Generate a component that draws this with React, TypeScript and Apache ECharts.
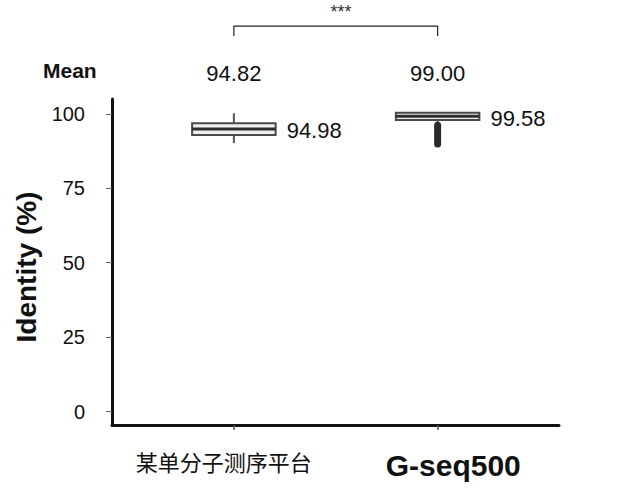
import React, { useEffect, useRef } from 'react';
import * as echarts from 'echarts';

const categories = ['某单分子测序平台', 'G-seq500'];
const whiskerLow = [90.2, 88.8];
const q1 = [92.9, 97.95];
const median = [94.93, 99.19];
const q3 = [96.84, 100.4];
const whiskerHigh = [100.2, 100.4];
const outlierBandCategory = 1;
const outlierBandTop = 96.2;
const outlierBandBottom = 89.9;
const medianLabels = ['94.98', '99.58'];
const meanLabels = ['94.82', '99.00'];
const yTicks = [0, 25, 50, 75, 100];
const significance = '***';
const bracketLow = 126.2;
const bracketHigh = 129.5;

const ff = "'Liberation Sans', Arial, Helvetica, sans-serif";

export default function App() {
  const ref = useRef<HTMLDivElement>(null);
  useEffect(() => {
    document.body.style.margin = '0';
    const chart = echarts.init(ref.current!, undefined, { renderer: 'svg' });
    const boxData = categories.map((_, i) => [i, whiskerLow[i], q1[i], median[i], q3[i], whiskerHigh[i]]);
    const option: any = {
      animation: false,
      backgroundColor: '#ffffff',
      grid: [
        { left: 112, right: 61, top: 99, bottom: 67 },
        { left: 132, right: 80.5, top: 99, bottom: 67 },
      ],
      xAxis: [
        {
          type: 'category',
          gridIndex: 0,
          data: categories,
          axisLine: { onZero: false, lineStyle: { color: '#111', width: 3 } },
          axisTick: { show: false },
          axisLabel: {
            interval: 0,
            margin: 25,
            formatter: (v: string, i: number) => (i === 0 ? `{a|${v}}` : `{b|${v}}`),
            rich: {
              a: { fontSize: 22, fontFamily: "'Noto Sans CJK SC', sans-serif", color: '#111' },
              b: { fontSize: 30, fontWeight: 'bold', fontFamily: ff, color: '#111', padding: [0, 0, 0, 12] },
            },
          },
        },
        {
          type: 'category',
          gridIndex: 1,
          data: categories,
          axisLine: { show: false, onZero: false },
          axisTick: { show: true, alignWithLabel: true, length: 5, lineStyle: { color: '#555', width: 1.5 } },
          axisLabel: { show: false },
        },
        {
          type: 'category',
          gridIndex: 1,
          position: 'top',
          data: categories,
          axisLine: { show: false, onZero: false },
          axisTick: { show: false },
          axisLabel: {
            interval: 0,
            margin: 15,
            formatter: (_v: string, i: number) => meanLabels[i],
            fontSize: 22,
            color: '#111',
            fontFamily: ff,
          },
        },
      ],
      yAxis: [
        {
          type: 'value',
          gridIndex: 0,
          min: -4.5,
          max: 105,
          splitLine: { show: false },
          axisLine: { show: true, lineStyle: { color: '#111', width: 3 } },
          axisTick: { show: true, customValues: yTicks, length: 6, lineStyle: { color: '#666' } },
          axisLabel: { customValues: yTicks, margin: 27, fontSize: 20, color: '#111', fontFamily: ff },
          name: 'Identity (%)',
          nameLocation: 'middle',
          nameGap: 55,
          nameTextStyle: { fontSize: 28, fontWeight: 'bold', color: '#111', fontFamily: ff, padding: [0, 10, 0, 0] },
        },
        { type: 'value', gridIndex: 1, min: -4.5, max: 105, show: false },
      ],
      graphic: [
        {
          type: 'text',
          left: 43,
          top: 60,
          style: { text: 'Mean', fontSize: 21, fontWeight: 'bold', fill: '#111', fontFamily: ff },
        },
        {
          type: 'text',
          x: 341,
          y: 3,
          style: { text: significance, fontSize: 18, fill: '#333', fontFamily: ff, align: 'center' },
        },
      ],
      series: [
        {
          type: 'custom',
          xAxisIndex: 1,
          yAxisIndex: 1,
          data: boxData,
          encode: { x: 0, y: [1, 2, 3, 4, 5] },
          renderItem: (_params: any, api: any) => {
            const idx = api.value(0);
            const lo = api.coord([idx, api.value(1)]);
            const b1 = api.coord([idx, api.value(2)]);
            const md = api.coord([idx, api.value(3)]);
            const b3 = api.coord([idx, api.value(4)]);
            const hi = api.coord([idx, api.value(5)]);
            const w = api.size([1, 0])[0] * 0.41;
            const x = md[0];
            return {
              type: 'group',
              children: [
                { type: 'line', shape: { x1: x, y1: hi[1], x2: x, y2: b3[1] }, style: { stroke: '#555', lineWidth: 2 } },
                { type: 'line', shape: { x1: x, y1: b1[1], x2: x, y2: lo[1] }, style: { stroke: '#555', lineWidth: 2 } },
                {
                  type: 'rect',
                  shape: { x: x - w / 2, y: b3[1], width: w, height: b1[1] - b3[1] },
                  style: { fill: '#efefef', stroke: '#4a4a4a', lineWidth: 2 },
                },
                {
                  type: 'line',
                  shape: { x1: x - w / 2, y1: md[1], x2: x + w / 2, y2: md[1] },
                  style: { stroke: '#2e2e2e', lineWidth: 3 },
                },
                {
                  type: 'text',
                  x: x + w / 2 + 11,
                  y: md[1] + 2,
                  style: {
                    text: medianLabels[idx],
                    fontSize: 22,
                    fill: '#111',
                    fontFamily: ff,
                    verticalAlign: 'middle',
                    align: 'left',
                  },
                },
              ],
            };
          },
        },
        {
          type: 'line',
          xAxisIndex: 1,
          yAxisIndex: 1,
          data: [
            [outlierBandCategory, outlierBandTop],
            [outlierBandCategory, outlierBandBottom],
          ],
          symbol: 'none',
          lineStyle: { color: '#2a2a2a', width: 7, cap: 'round' },
        },
        {
          type: 'line',
          xAxisIndex: 1,
          yAxisIndex: 1,
          clip: false,
          data: [
            [0, bracketLow],
            [0, bracketHigh],
            [1, bracketHigh],
            [1, bracketLow],
          ],
          symbol: 'none',
          lineStyle: { color: '#222', width: 1.2 },
        },
      ],
    };
    chart.setOption(option);
    return () => chart.dispose();
  }, []);
  return <div ref={ref} style={{ width: 620, height: 492 }} />;
}
